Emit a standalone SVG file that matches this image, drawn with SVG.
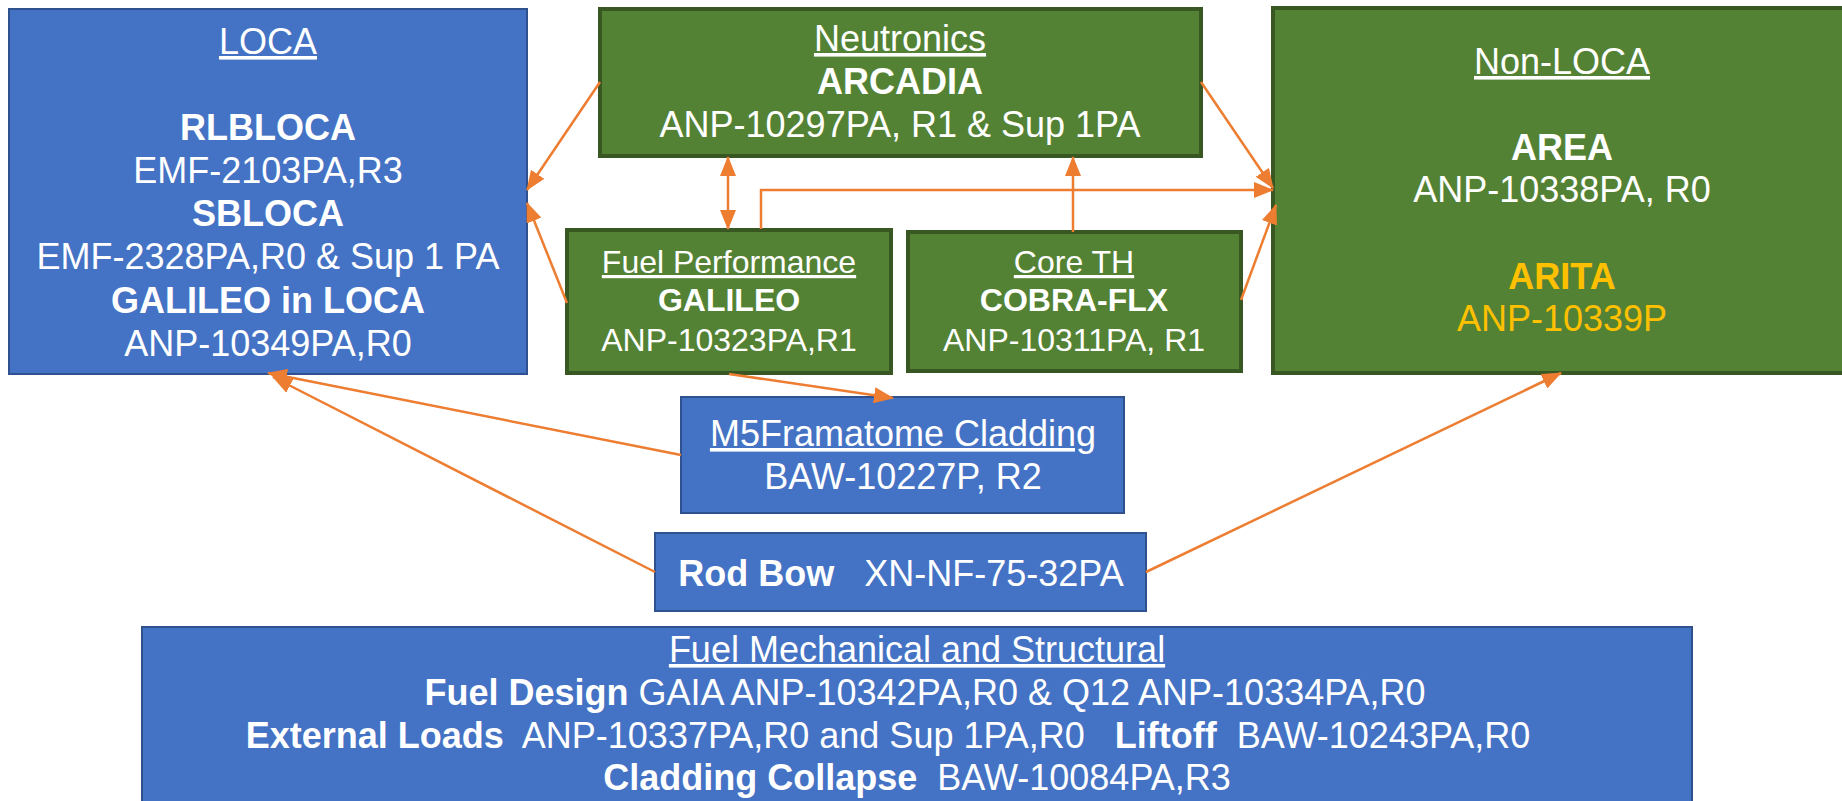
<svg xmlns="http://www.w3.org/2000/svg" width="1842" height="801" viewBox="0 0 1842 801">
<style>
text{font-family:"Liberation Sans",Arial,sans-serif;fill:#fff;text-anchor:middle}
.b{font-size:36px}
.s{font-size:32px}
.bold{font-weight:bold}
.u{text-decoration:underline}
.y{fill:#FFC000}
.blue{fill:#4472C4;stroke:#2F528F;stroke-width:2}
.green{fill:#548235;stroke:#385723;stroke-width:4}
.c{fill:none;stroke:#ED7D31;stroke-width:2.5}
</style>
<defs>
<marker id="ah" viewBox="0 0 20 16" refX="19" refY="8" markerWidth="20" markerHeight="16" markerUnits="userSpaceOnUse" orient="auto-start-reverse">
<path d="M0,0 L20,8 L0,16 z" fill="#ED7D31"/>
</marker>
</defs>
<rect width="1842" height="801" fill="#fff"/>
<g id="loca">
<rect class="blue" x="9" y="9" width="518" height="365"/>
<text class="b u" x="268" y="54">LOCA</text>
<text class="b bold" x="268" y="140">RLBLOCA</text>
<text class="b" x="268" y="183">EMF-2103PA,R3</text>
<text class="b bold" x="268" y="226">SBLOCA</text>
<text class="b" x="268" y="269">EMF-2328PA,R0 &amp; Sup 1 PA</text>
<text class="b bold" x="268" y="313">GALILEO in LOCA</text>
<text class="b" x="268" y="356">ANP-10349PA,R0</text>
</g>
<g id="neutronics">
<rect class="green" x="600" y="9" width="601" height="147"/>
<text class="b u" x="900" y="51">Neutronics</text>
<text class="b bold" x="900" y="94">ARCADIA</text>
<text class="b" x="900" y="137">ANP-10297PA, R1 &amp; Sup 1PA</text>
</g>
<g id="nonloca">
<rect class="green" x="1273" y="8" width="580" height="365"/>
<text class="b u" x="1562" y="74">Non-LOCA</text>
<text class="b bold" x="1562" y="160">AREA</text>
<text class="b" x="1562" y="202">ANP-10338PA, R0</text>
<text class="b bold y" x="1562" y="289">ARITA</text>
<text class="b y" x="1562" y="331">ANP-10339P</text>
</g>
<g id="fuelperf">
<rect class="green" x="567" y="230" width="324" height="143"/>
<text class="s u" x="729" y="273">Fuel Performance</text>
<text class="s bold" x="729" y="311">GALILEO</text>
<text class="s" x="729" y="351">ANP-10323PA,R1</text>
</g>
<g id="coreth">
<rect class="green" x="908" y="232" width="333" height="139"/>
<text class="s u" x="1074" y="273">Core TH</text>
<text class="s bold" x="1074" y="311">COBRA-FLX</text>
<text class="s" x="1074" y="351">ANP-10311PA, R1</text>
</g>
<g id="m5">
<rect class="blue" x="681" y="397" width="443" height="116"/>
<text class="b u" x="903" y="446">M5Framatome Cladding</text>
<text class="b" x="903" y="489">BAW-10227P, R2</text>
</g>
<g id="rodbow">
<rect class="blue" x="655" y="533" width="491" height="78"/>
<text class="b" x="901" y="586" xml:space="preserve"><tspan class="bold">Rod Bow</tspan>   XN-NF-75-32PA</text>
</g>
<g id="fuelmech">
<rect class="blue" x="142" y="627" width="1550" height="190"/>
<text class="b u" x="917" y="662">Fuel Mechanical and Structural</text>
<text class="b" x="925" y="705" xml:space="preserve"><tspan class="bold">Fuel Design</tspan> GAIA ANP-10342PA,R0 &amp; Q12 ANP-10334PA,R0</text>
<text class="b" x="888" y="748" xml:space="preserve"><tspan class="bold">External Loads</tspan>  ANP-10337PA,R0 and Sup 1PA,R0   <tspan class="bold">Liftoff</tspan>  BAW-10243PA,R0</text>
<text class="b" x="917" y="790" xml:space="preserve"><tspan class="bold">Cladding Collapse</tspan>  BAW-10084PA,R3</text>
</g>
<g id="connectors">
<path class="c" d="M600,82 L527,190" marker-end="url(#ah)"/>
<path class="c" d="M567,303 L527,203" marker-end="url(#ah)"/>
<path class="c" d="M1201,82 L1273,188" marker-end="url(#ah)"/>
<path class="c" d="M761,229 L761,190 L1273,190" marker-end="url(#ah)"/>
<path class="c" d="M1241,300 L1276,205" marker-end="url(#ah)"/>
<path class="c" d="M728,229 L728,157" marker-start="url(#ah)" marker-end="url(#ah)"/>
<path class="c" d="M1073,232 L1073,157" marker-end="url(#ah)"/>
<path class="c" d="M729,374 L893,398" marker-end="url(#ah)"/>
<path class="c" d="M681,455 L268,373" marker-end="url(#ah)"/>
<path class="c" d="M655,572 L273,377" marker-end="url(#ah)"/>
<path class="c" d="M1146,572 L1561,373" marker-end="url(#ah)"/>
</g>
</svg>
